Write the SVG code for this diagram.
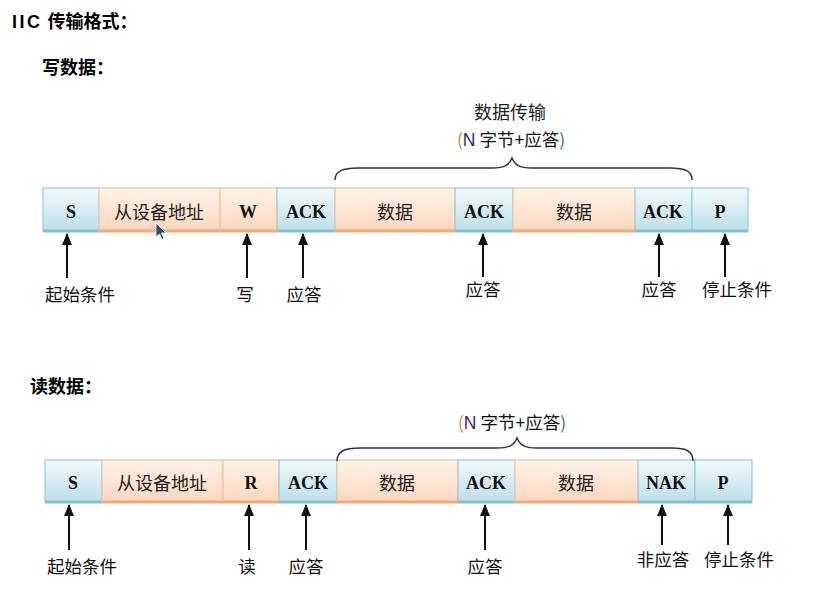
<svg xmlns="http://www.w3.org/2000/svg" width="832" height="613" viewBox="0 0 832 613">
<defs>
<linearGradient id="gb" x1="0" y1="0" x2="0" y2="1"><stop offset="0" stop-color="#f2f9fb"/><stop offset="1" stop-color="#bddfe9"/></linearGradient>
<linearGradient id="go" x1="0" y1="0" x2="0" y2="1"><stop offset="0" stop-color="#fff3ea"/><stop offset="1" stop-color="#fcd7bd"/></linearGradient>
<marker id="ah" viewBox="0 0 12 10" refX="11" refY="5" markerWidth="12" markerHeight="10" markerUnits="userSpaceOnUse" orient="auto"><path d="M0,0 L12,5 L0,10 Z" fill="#111"/></marker>
</defs>
<style>
.b{fill:url(#gb);stroke:#92cddd;stroke-width:1.2}
.o{fill:url(#go);stroke:#f6c09a;stroke-width:1.2}
.bb{stroke:#86bfd2;stroke-width:3}
.ob{stroke:#eeac7e;stroke-width:3}
.k{font-family:"Liberation Serif",serif;font-weight:bold;font-size:18px;fill:#111;text-anchor:middle}
.c{font-family:"Noto Sans CJK SC",sans-serif;font-size:18px;fill:#222;text-anchor:middle}
.l{font-family:"Noto Sans CJK SC",sans-serif;font-size:17.5px;fill:#111;text-anchor:middle}
.h{font-family:"Liberation Sans","Noto Sans CJK SC",sans-serif;font-weight:bold;font-size:18px;fill:#000}
.ar{stroke:#111;stroke-width:2;fill:none}
.br{stroke:#333;stroke-width:1.5;fill:none}
</style>
<rect width="832" height="613" fill="#fff"/>
<text class="h" x="12" y="28" font-size="17"><tspan letter-spacing="2.5">IIC</tspan> 传输格式：</text>
<text class="h" x="42" y="74">写数据：</text>
<text class="h" x="30" y="393">读数据：</text>

<g id="write-row">
<g id="w-s"><rect class="b" x="43" y="188" width="56" height="43"/><line class="bb" x1="43" y1="231" x2="99" y2="231"/><text class="k" x="71" y="218">S</text></g>
<g id="w-addr"><rect class="o" x="99" y="188" width="121" height="43"/><line class="ob" x1="99" y1="231" x2="220" y2="231"/><text class="c" x="159" y="219">从设备地址</text></g>
<g id="w-w"><rect class="o" x="220" y="188" width="57" height="43"/><line class="ob" x1="220" y1="231" x2="277" y2="231"/><text class="k" x="248" y="218">W</text></g>
<g id="w-ack1"><rect class="b" x="277" y="188" width="58" height="43"/><line class="bb" x1="277" y1="231" x2="335" y2="231"/><text class="k" x="306" y="218">ACK</text></g>
<g id="w-d1"><rect class="o" x="335" y="188" width="120" height="43"/><line class="ob" x1="335" y1="231" x2="455" y2="231"/><text class="c" x="395" y="219">数据</text></g>
<g id="w-ack2"><rect class="b" x="455" y="188" width="58" height="43"/><line class="bb" x1="455" y1="231" x2="513" y2="231"/><text class="k" x="484" y="218">ACK</text></g>
<g id="w-d2"><rect class="o" x="513" y="188" width="122" height="43"/><line class="ob" x1="513" y1="231" x2="635" y2="231"/><text class="c" x="574" y="219">数据</text></g>
<g id="w-ack3"><rect class="b" x="635" y="188" width="57" height="43"/><line class="bb" x1="635" y1="231" x2="692" y2="231"/><text class="k" x="663" y="218">ACK</text></g>
<g id="w-p"><rect class="b" x="692" y="188" width="56" height="43"/><line class="bb" x1="692" y1="231" x2="748" y2="231"/><text class="k" x="720" y="218">P</text></g>
</g>

<g id="read-row">
<g id="r-s"><rect class="b" x="45" y="460" width="57" height="42"/><line class="bb" x1="45" y1="502" x2="102" y2="502"/><text class="k" x="73" y="489">S</text></g>
<g id="r-addr"><rect class="o" x="102" y="460" width="121" height="42"/><line class="ob" x1="102" y1="502" x2="223" y2="502"/><text class="c" x="162" y="490">从设备地址</text></g>
<g id="r-r"><rect class="o" x="223" y="460" width="56" height="42"/><line class="ob" x1="223" y1="502" x2="279" y2="502"/><text class="k" x="251" y="489">R</text></g>
<g id="r-ack1"><rect class="b" x="279" y="460" width="58" height="42"/><line class="bb" x1="279" y1="502" x2="337" y2="502"/><text class="k" x="308" y="489">ACK</text></g>
<g id="r-d1"><rect class="o" x="337" y="460" width="121" height="42"/><line class="ob" x1="337" y1="502" x2="458" y2="502"/><text class="c" x="397" y="490">数据</text></g>
<g id="r-ack2"><rect class="b" x="458" y="460" width="57" height="42"/><line class="bb" x1="458" y1="502" x2="515" y2="502"/><text class="k" x="486" y="489">ACK</text></g>
<g id="r-d2"><rect class="o" x="515" y="460" width="123" height="42"/><line class="ob" x1="515" y1="502" x2="638" y2="502"/><text class="c" x="576" y="490">数据</text></g>
<g id="r-nak"><rect class="b" x="638" y="460" width="57" height="42"/><line class="bb" x1="638" y1="502" x2="695" y2="502"/><text class="k" x="666" y="489">NAK</text></g>
<g id="r-p"><rect class="b" x="695" y="460" width="57" height="42"/><line class="bb" x1="695" y1="502" x2="752" y2="502"/><text class="k" x="723" y="489">P</text></g>
</g>

<g id="connectors">
<path class="br" d="M335,180 C335,171 343,168 358,168 L492,168 C505,168 509,165 512,158 C515,165 519,168 532,168 L670,168 C685,168 692,171 692,180"/>
<path class="br" d="M337,461 C337,451 345,448 360,448 L497,448 C510,448 514,445 517,438 C520,445 524,448 537,448 L672,448 C686,448 693,451 693,461"/>
<line class="ar" x1="67" y1="278" x2="67" y2="234" marker-end="url(#ah)"/>
<line class="ar" x1="247" y1="278" x2="247" y2="234" marker-end="url(#ah)"/>
<line class="ar" x1="303" y1="278" x2="303" y2="234" marker-end="url(#ah)"/>
<line class="ar" x1="483" y1="277" x2="483" y2="234" marker-end="url(#ah)"/>
<line class="ar" x1="659" y1="277" x2="659" y2="234" marker-end="url(#ah)"/>
<line class="ar" x1="725" y1="277" x2="725" y2="234" marker-end="url(#ah)"/>
<line class="ar" x1="69" y1="550" x2="69" y2="505" marker-end="url(#ah)"/>
<line class="ar" x1="249" y1="550" x2="249" y2="505" marker-end="url(#ah)"/>
<line class="ar" x1="306" y1="550" x2="306" y2="505" marker-end="url(#ah)"/>
<line class="ar" x1="485" y1="550" x2="485" y2="505" marker-end="url(#ah)"/>
<line class="ar" x1="662" y1="545" x2="662" y2="505" marker-end="url(#ah)"/>
<line class="ar" x1="728" y1="545" x2="728" y2="505" marker-end="url(#ah)"/>
</g>

<g id="labels">
<text class="c" x="510" y="119">数据传输</text>
<text class="l" x="511" y="146" font-size="16"><tspan fill="#c8874a">(</tspan><tspan fill="#2a2a7a" font-family="Liberation Sans,sans-serif">N</tspan> 字节+应答<tspan fill="#4a6aa0">)</tspan></text>
<text class="l" x="512" y="429" font-size="16"><tspan fill="#c8874a">(</tspan><tspan fill="#2a2a7a" font-family="Liberation Sans,sans-serif">N</tspan> 字节+应答<tspan fill="#4a6aa0">)</tspan></text>
<text class="l" x="80" y="301">起始条件</text>
<text class="l" x="245" y="301">写</text>
<text class="l" x="304" y="301">应答</text>
<text class="l" x="483" y="296">应答</text>
<text class="l" x="659" y="296">应答</text>
<text class="l" x="737" y="296">停止条件</text>
<text class="l" x="82" y="573">起始条件</text>
<text class="l" x="247" y="573">读</text>
<text class="l" x="306" y="573">应答</text>
<text class="l" x="485" y="573">应答</text>
<text class="l" x="663" y="566">非应答</text>
<text class="l" x="739" y="566">停止条件</text>
</g>

<path d="M156,223 L156,237 L159.5,234 L162,239.5 L164,238.5 L161.5,233 L166,233 Z" fill="#1f4f7a" stroke="#fff" stroke-width="0.8"/>
</svg>
